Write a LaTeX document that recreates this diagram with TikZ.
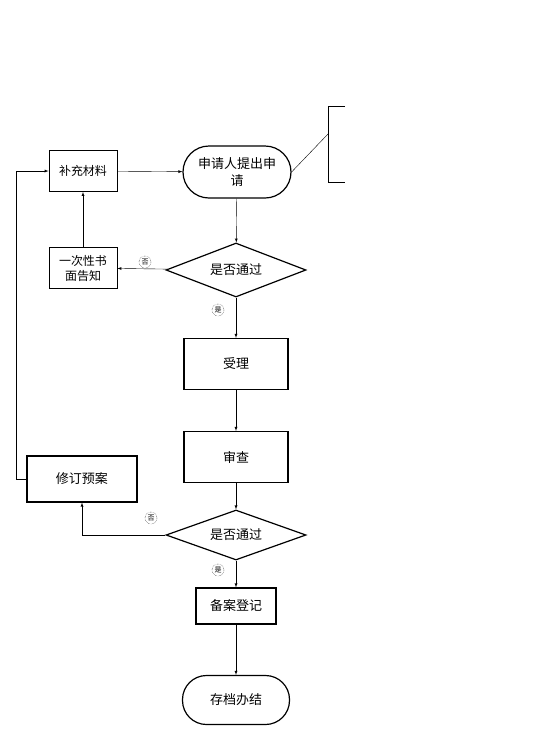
\documentclass[tikz,border=0pt]{standalone}
\usepackage{fontspec}
\setmainfont{Noto Sans CJK SC}
\usetikzlibrary{shapes.geometric}
\tikzset{
  box/.style={draw, thick, minimum width=68pt, minimum height=41pt, inner sep=1pt, font=\fontsize{12}{15}\selectfont, align=center},
  bigbox/.style={draw, very thick, minimum width=104pt, minimum height=51pt, font=\fontsize{13}{15}\selectfont},
  term/.style={draw, very thick, rounded corners=26pt, minimum width=108pt, minimum height=52pt, font=\fontsize{13}{17}\selectfont, align=center},
  ask/.style={draw, very thick, diamond, aspect=2.6, minimum width=140pt, minimum height=54pt, inner sep=0pt, font=\fontsize{13}{15}\selectfont},
  tag/.style={draw, densely dotted, circle, inner sep=0.5pt, minimum size=12pt, font=\fontsize{7}{7}\selectfont},
  flow/.style={-latex, thin}
}
\begin{document}
\begin{tikzpicture}[x=1pt, y=-1pt]
  \useasboundingbox (0,0) rectangle (553,740);
  % nodes
  \node[box] (more) at (83,171) {补充材料};
  \node[term] (apply) at (237,172) {申请人提出申\\请};
  \node[ask] (check1) at (236,270) {是否通过};
  \node[box] (notice) at (83,268) {一次性书\\面告知};
  \node[bigbox] (accept) at (236,364) {受理};
  \node[bigbox] (review) at (236,457) {审查};
  \node[bigbox, minimum width=110pt, minimum height=46pt] (revise) at (82,479) {修订预案};
  \node[ask, minimum height=50pt] (check2) at (236,535) {是否通过};
  \node[box, very thick, minimum width=80pt, minimum height=36pt, font=\fontsize{13}{15}\selectfont] (record) at (236,606) {备案登记};
  \node[term, minimum width=107pt, minimum height=49pt, rounded corners=24pt] (archive) at (236,700) {存档办结};
  % tags
  \node[tag] (no1) at (145,262) {否};
  \node[tag] (yes1) at (218,310) {是};
  \node[tag] (no2) at (151,518) {否};
  \node[tag] (yes2) at (218,570) {是};
  % note bracket
  \coordinate (note) at (328,134);
  \draw[thin] (345,106) -- (328,106) -- (328,182) -- (345,182);
  \draw[thin] (apply.east) -- (note);
  % connectors
  \draw[flow] (more) -- (apply);
  \draw[flow] (apply) -- (check1);
  \draw[flow] (check1) -- (notice);
  \draw[flow] (notice) -- (more);
  \draw[flow] (check1) -- (accept);
  \draw[flow] (accept) -- (review);
  \draw[flow] (review) -- (check2);
  \draw[flow] (check2.west) -| (revise.south);
  \draw[flow] (revise.west) -- ++(-10,0) |- (more.west);
  \draw[flow] (check2) -- (record);
  \draw[flow] (record) -- (archive);
\end{tikzpicture}
\end{document}
